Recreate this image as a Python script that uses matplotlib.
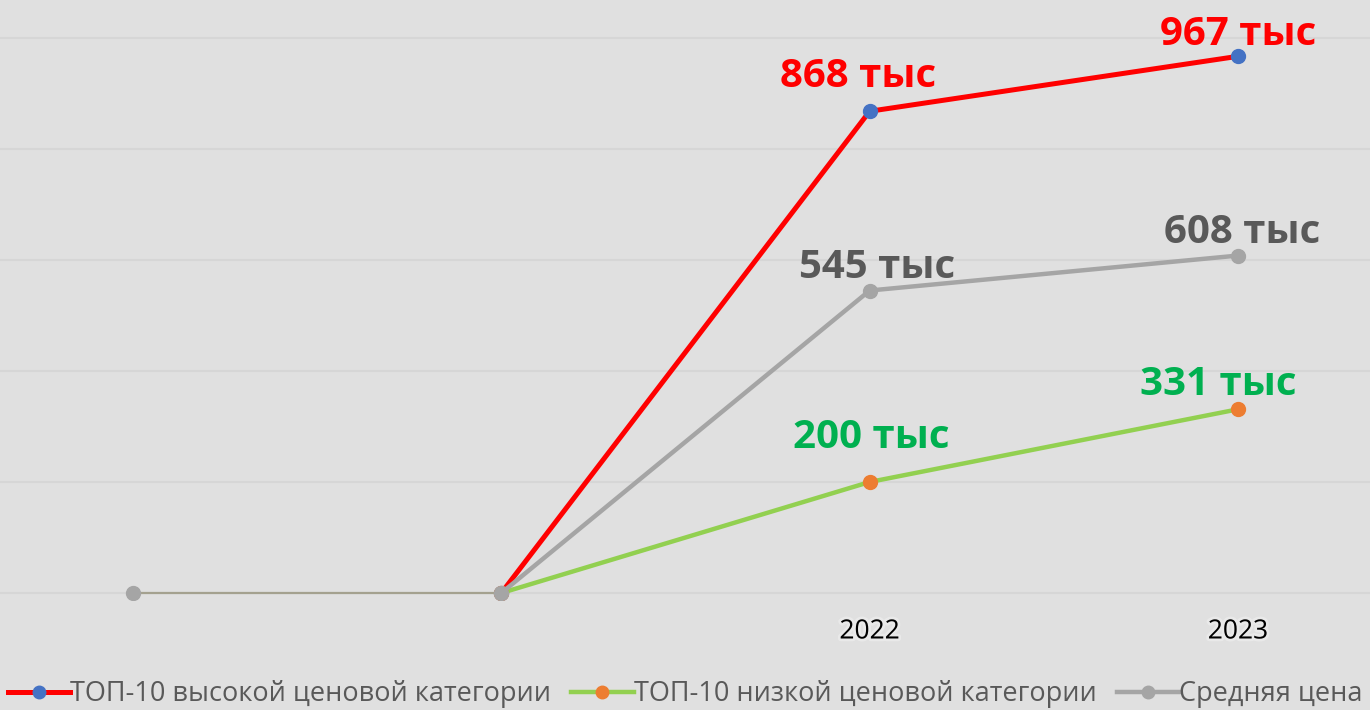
import numpy as np
import matplotlib.pyplot as plt
import matplotlib.patheffects as pe

categories = ['', '', '2022', '2023']
high_top10 = [np.nan, 0, 868, 967]
low_top10 = [np.nan, 0, 200, 331]
avg_price = [0, 0, 545, 608]
series_names = ['ТОП-10 высокой ценовой категории',
                'ТОП-10 низкой ценовой категории',
                'Средняя цена']

bg = '#e0e0e0'
plt.rcParams['font.family'] = ['Open Sans', 'DejaVu Sans']

fig = plt.figure(figsize=(13.7, 7.1), dpi=100, facecolor=bg)
ax = fig.add_axes([0, 110 / 710, 1, 600 / 710])
ax.set_facecolor(bg)

x = np.arange(len(categories))

# lines
ax.plot(x, high_top10, color='#ff0000', lw=3.6, marker='o', ms=10,
        mfc='#4472c4', mec='#4472c4', label=series_names[0], zorder=3)
ax.plot(x, low_top10, color='#92d050', lw=3.2, marker='o', ms=10,
        mfc='#ed7d31', mec='#ed7d31', label=series_names[1], zorder=3)
# first flat piece of the average line is thin
ax.plot(x[:2], avg_price[:2], color='#a4a18f', lw=1.6, zorder=3)
ax.plot(x[1:], avg_price[1:], color='#a5a5a5', lw=3.2, marker='o', ms=10,
        mfc='#a5a5a5', mec='#a5a5a5', label=series_names[2], zorder=4)
ax.plot(x[0], avg_price[0], 'o', color='#a5a5a5', ms=10, zorder=4)

# value labels
label_offsets = {  # (dx, dy) in px
    'high': [(-12, 35), (0, 22)],
    'low': [(2, 44), (-20, 25)],
    'avg': [(7, 23), (4, 23)],
}
for vals, key, col in [(high_top10, 'high', '#ff0000'),
                       (low_top10, 'low', '#00b050'),
                       (avg_price, 'avg', '#595959')]:
    for j, i in enumerate([2, 3]):
        dx, dy = label_offsets[key][j]
        ax.annotate(f'{vals[i]} тыс', (x[i], vals[i]),
                    xytext=(dx * 0.72, dy * 0.72), textcoords='offset points',
                    ha='center', va='center', fontsize=29, fontweight='bold',
                    color=col, zorder=5)

ax.set_xlim(-133 / 368.3, 3 + 132 / 368.3)
ax.set_ylim(-7 / 0.555, 593 / 0.555)
ax.set_yticks([0, 200, 400, 600, 800, 1000])
ax.yaxis.grid(True, color='#d6d6d6', lw=1.5)
ax.set_axisbelow(True)
ax.set_xticks(x)
ax.set_xticklabels(categories, fontsize=19, color='black')
for t in ax.get_xticklabels():
    t.set_path_effects([pe.withStroke(linewidth=4, foreground='white', alpha=0.3)])
ax.tick_params(axis='x', length=0, pad=14)
ax.tick_params(axis='y', left=False, labelleft=False)
for s in ax.spines.values():
    s.set_visible(False)

fig.legend(loc='lower center', bbox_to_anchor=(0.5, -0.032), ncol=3, frameon=False,
           fontsize=19.5, labelcolor='#595959', handlelength=2.3, markerscale=0.9,
           handletextpad=0.0, columnspacing=0.75)

fig.savefig('out.png', dpi=100, facecolor=bg)
